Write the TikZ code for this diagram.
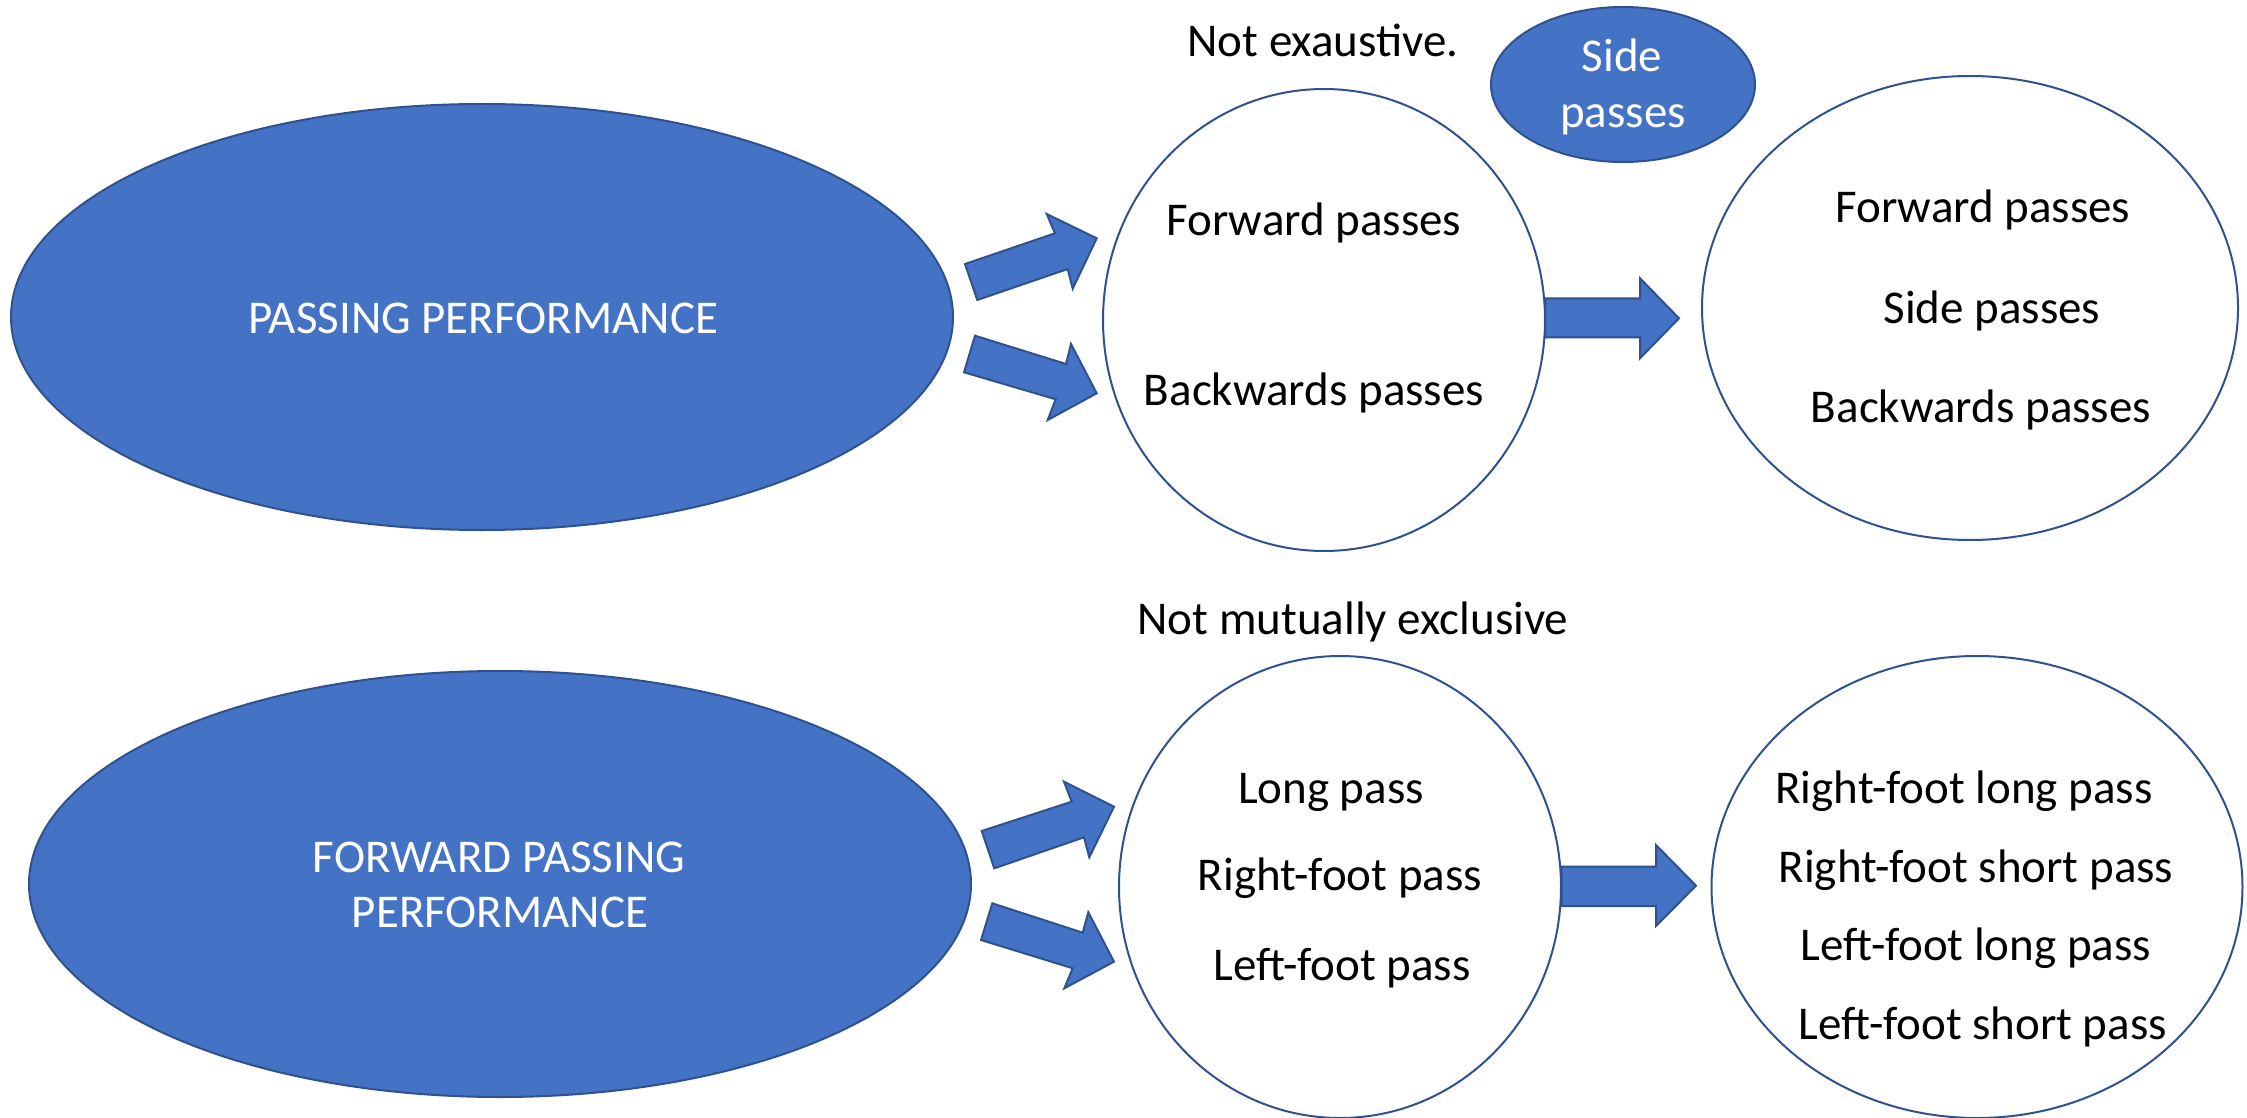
\documentclass[tikz,border=0pt]{standalone}
\usepackage{fontspec}
\setmainfont{Carlito}
\usetikzlibrary{shapes.geometric}
\definecolor{accent}{HTML}{4472C4}
\definecolor{edgeblue}{HTML}{2F528F}
\begin{document}
\begin{tikzpicture}[x=1pt,y=-1pt,
  blue ell/.style={ellipse, draw=edgeblue, fill=accent, line width=2pt, inner sep=0pt},
  white ell/.style={ellipse, draw=edgeblue, fill=white, line width=2pt, inner sep=0pt},
  txt/.style={anchor=base, inner sep=0pt, font=\fontsize{47}{55}\selectfont},
  wtxt/.style={txt, text=white},
  blockarrow/.style={draw=edgeblue, fill=accent, line width=2pt, line join=miter}]

\useasboundingbox (0,0) rectangle (2247,1118);

% shapes
\node[blue ell, minimum width=942pt, minimum height=426pt] (pp) at (482,317) {};
\node[white ell, minimum width=442pt, minimum height=462pt] (c1) at (1324,320) {};
\node[white ell, minimum width=536pt, minimum height=464pt] (c2) at (1970,308) {};
\node[blue ell, minimum width=264pt, minimum height=155pt] (side) at (1623,84.5) {};
\node[blue ell, minimum width=942pt, minimum height=426pt] (fpp) at (500,884) {};
\node[white ell, minimum width=442pt, minimum height=462pt] (c3) at (1340,887) {};
\node[white ell, minimum width=531pt, minimum height=462pt] (c4) at (1977,887) {};

% block arrows
\draw[blockarrow] (965,264) -- (1055,233.3) -- (1046.7,214) -- (1096.7,238.3) -- (1072.7,288.7) -- (1067.7,269) -- (977.3,300) -- cycle;
\draw[blockarrow] (975,335.7) -- (1066,364) -- (1071,344) -- (1096.7,393.3) -- (1047.7,420) -- (1055.7,399.3) -- (964,372.3) -- cycle;
\draw[blockarrow] (1545,298.3) -- (1640,298.3) -- (1640,278.3) -- (1679,318.3) -- (1640,358.3) -- (1640,337.3) -- (1545,337.3) -- cycle;
\draw[blockarrow] (981.7,831) -- (1071.7,801.7) -- (1064,781.7) -- (1114,806.7) -- (1089.3,857.3) -- (1084,837.3) -- (994.3,868.3) -- cycle;
\draw[blockarrow] (992.3,903.3) -- (1082.7,932.7) -- (1088.3,912.3) -- (1114,961.7) -- (1064.3,988.3) -- (1072.7,968.3) -- (981,940) -- cycle;
\draw[blockarrow] (1561.7,866.7) -- (1656,866.7) -- (1656,845) -- (1696,885.7) -- (1656,926) -- (1656,906) -- (1561.7,906) -- cycle;

% texts
\node[wtxt] (tpp) at (483,333) {PASSING PERFORMANCE};
\node[wtxt] (tfpp1) at (499,872) {FORWARD PASSING};
\node[wtxt] (tfpp2) at (500,927) {PERFORMANCE};
\node[wtxt] (tside1) at (1622,72) {Side};
\node[wtxt] (tside2) at (1623,128) {passes};

\node[txt] (nex) at (1323,57) {Not exaustive.};
\node[txt] (c1a) at (1314,236) {Forward passes};
\node[txt] (c1b) at (1314,405) {Backwards passes};
\node[txt] (c2a) at (1983,223) {Forward passes};
\node[txt] (c2b) at (1992,323) {Side passes};
\node[txt] (c2c) at (1981,422) {Backwards passes};

\node[txt] (nme) at (1353,634) {Not mutually exclusive};
\node[txt] (c3a) at (1331,803) {Long pass};
\node[txt] (c3b) at (1340,890) {Right-foot pass};
\node[txt] (c3c) at (1342,980) {Left-foot pass};
\node[txt] (c4a) at (1964,803) {Right-foot long pass};
\node[txt] (c4b) at (1976,882) {Right-foot short pass};
\node[txt] (c4c) at (1976,960) {Left-foot long pass};
\node[txt] (c4d) at (1983,1039) {Left-foot short pass};
\end{tikzpicture}
\end{document}
